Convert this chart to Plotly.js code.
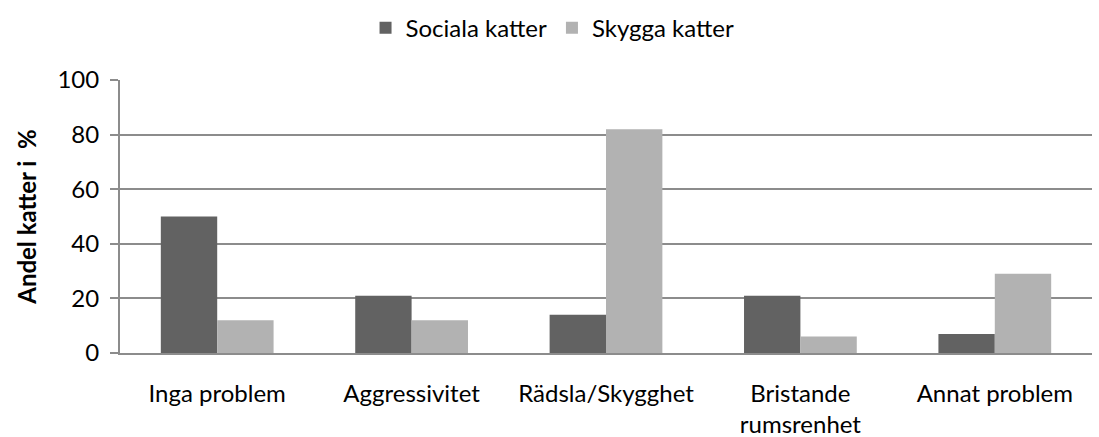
<!DOCTYPE html>
<html><head><meta charset="utf-8">
<script src="https://cdn.plot.ly/plotly-3.0.1.min.js"></script>
<style>body{margin:0}#chart{width:1099px;height:437px}</style>
</head><body><div id="chart"></div>
<script>
const categories = ["Inga problem", "Aggressivitet", "Rädsla/Skygghet", "Bristande<br>rumsrenhet", "Annat problem"];
const sociala = [50, 21, 14, 21, 7];
const skygga = [12, 12, 82, 6, 29];
const yTicks = [0, 20, 40, 60, 80, 100];

const font = "Lato, 'Open Sans', sans-serif";
const data = [
  {type: "bar", name: "Sociala katter", x: categories, y: sociala, marker: {color: "#626262"}},
  {type: "bar", name: "Skygga katter", x: categories, y: skygga, marker: {color: "#b2b2b2"}}
];
const layout = {
  width: 1099, height: 437,
  margin: {l: 120, r: 7, t: 80, b: 84, autoexpand: false},
  paper_bgcolor: "#fff", plot_bgcolor: "#fff",
  font: {family: font, size: 24, color: "#000"},
  barmode: "group", bargap: 0.42, bargroupgap: 0,
  showlegend: true,
  legend: {orientation: "h", x: 0.445, xanchor: "center", y: 1.19, yanchor: "middle", font: {size: 24}, itemwidth: 30, traceorder: "normal", tracegroupgap: 0},
  xaxis: {type: "category", showgrid: false, showline: true, linecolor: "#8c8c8c", linewidth: 2, ticks: "", tickfont: {size: 24}, fixedrange: true, automargin: false, ticklabelstandoff: 18},
  yaxis: {range: [0, 100], tickvals: yTicks, ticktext: yTicks.map(String), showgrid: true, gridcolor: "#8c8c8c", gridwidth: 2,
    showline: true, linecolor: "#8c8c8c", linewidth: 2, ticks: "outside", ticklen: 8, tickcolor: "#8c8c8c", tickwidth: 2,
    zeroline: false, tickfont: {size: 24}, automargin: false, ticklabelstandoff: 6,
    title: {text: "<b>Andel katter i  %</b>", font: {size: 24}, standoff: 14}}
};
Plotly.newPlot("chart", data, layout, {displayModeBar: false, staticPlot: true});
</script></body></html>
